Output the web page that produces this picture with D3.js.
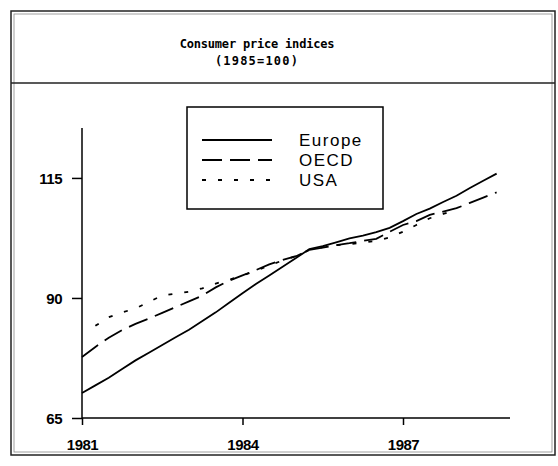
<!DOCTYPE html>
<html>
<head>
<meta charset="utf-8">
<script src="https://cdn.jsdelivr.net/npm/d3@7"></script>
<style>
  body { margin: 0; background: #fff; }
  svg { display: block; }
</style>
</head>
<body>
<div id="chart"></div>
<script>
// quarterly points, 1985 = 100
var years = [1981, 1981.25, 1981.5, 1981.75, 1982, 1982.25, 1982.5, 1982.75,
             1983, 1983.25, 1983.5, 1983.75, 1984, 1984.25, 1984.5, 1984.75,
             1985, 1985.25, 1985.5, 1985.75, 1986, 1986.25, 1986.5, 1986.75,
             1987, 1987.25, 1987.5, 1987.75, 1988, 1988.25, 1988.5, 1988.75];

var europe = [70.2, 71.8, 73.4, 75.2, 77.0, 78.6, 80.2, 81.8,
              83.4, 85.2, 87.0, 89.0, 91.0, 92.9, 94.7, 96.5,
              98.3, 100.2, 100.8, 101.6, 102.4, 103.0, 103.7, 104.6,
              106.0, 107.5, 108.6, 110.0, 111.3, 112.9, 114.4, 115.9];

var oecd = [77.7, 79.8, 81.7, 83.3, 84.6, 85.7, 86.9, 88.1,
            89.3, 90.5, 92.2, 93.6, 94.7, 95.8, 97.0, 97.9,
            98.7, 100.0, 100.5, 101.0, 101.4, 101.9, 102.3, 103.8,
            105.2, 106.0, 107.3, 108.0, 108.7, 109.8, 110.9, 112.0];

// USA series starts one quarter later and stops at 1988
var usaYears = years.slice(1, 29);
var usa = [84.2, 86.0, 87.0, 87.8, 89.2, 90.5, 90.9,
           91.3, 92.0, 93.0, 93.8, 94.7, 95.6, 96.8, 97.8,
           98.7, 100.0, 100.6, 101.0, 101.2, 101.5, 101.9, 102.6,
           103.8, 105.2, 106.6, 107.5, 108.4];

var yTicks = [65, 90, 115];
var xTicks = [1981, 1984, 1987];
var seriesNames = ["Europe", "OECD", "USA"];
var dashes = [null, "20,8", "4,12"];

var width = 558, height = 466;

var svg = d3.select("#chart").append("svg")
    .attr("width", width)
    .attr("height", height);

// frame (double line look of the original print)
svg.append("rect")
    .attr("x", 11).attr("y", 11).attr("width", 544).attr("height", 444)
    .attr("fill", "none").attr("stroke", "#222").attr("stroke-width", 1.5);
svg.append("rect")
    .attr("x", 14).attr("y", 14).attr("width", 538).attr("height", 438)
    .attr("fill", "none").attr("stroke", "#888").attr("stroke-width", 0.8);
svg.append("line")
    .attr("x1", 11).attr("x2", 555).attr("y1", 83).attr("y2", 83)
    .attr("stroke", "#222").attr("stroke-width", 1.5);

// title
svg.append("text")
    .attr("x", 257).attr("y", 48)
    .attr("text-anchor", "middle")
    .attr("font-family", "DejaVu Sans Mono")
    .attr("font-weight", "bold")
    .attr("font-size", 12)
    .attr("letter-spacing", -0.2)
    .text("Consumer price indices");
svg.append("text")
    .attr("x", 257).attr("y", 65)
    .attr("text-anchor", "middle")
    .attr("font-family", "DejaVu Sans Mono")
    .attr("font-weight", "bold")
    .attr("font-size", 12)
    .attr("letter-spacing", 1.2)
    .text("(1985=100)");

var x = d3.scaleLinear().domain([1981, 1989]).range([82, 510]);
var y = d3.scaleLinear().domain([65, 125.4]).range([418, 128]);

// axes
var yAxis = svg.append("g")
    .attr("transform", "translate(" + x(1981) + ",0)")
    .call(d3.axisLeft(y).tickValues(yTicks).tickSize(10).tickPadding(10));
var xAxis = svg.append("g")
    .attr("transform", "translate(0," + y(65) + ")")
    .call(d3.axisBottom(x).tickValues(xTicks).tickSize(7).tickFormat(d3.format("d")).tickPadding(14));

[yAxis, xAxis].forEach(function (g) {
    g.select(".domain").remove();
    g.selectAll("line").attr("stroke", "#000").attr("stroke-width", 1.5);
    g.selectAll("text")
        .attr("fill", "#000")
        .attr("font-family", "Liberation Sans")
        .attr("font-weight", "bold")
        .attr("font-size", 15)
        .attr("letter-spacing", -0.5);
});
yAxis.selectAll("text").attr("dy", "0.35em");

svg.append("line")
    .attr("x1", x(1981)).attr("x2", x(1981))
    .attr("y1", y(65)).attr("y2", y(125.4))
    .attr("stroke", "#000").attr("stroke-width", 1.5);
svg.append("line")
    .attr("x1", x(1981)).attr("x2", x(1989))
    .attr("y1", y(65)).attr("y2", y(65))
    .attr("stroke", "#000").attr("stroke-width", 1.5);

// series
var line = d3.line()
    .x(function (d) { return x(d[0]); })
    .y(function (d) { return y(d[1]); });

var allSeries = [
    d3.zip(years, europe),
    d3.zip(years, oecd),
    d3.zip(usaYears, usa)
];

allSeries.forEach(function (data, i) {
    svg.append("path")
        .datum(data)
        .attr("fill", "none")
        .attr("stroke", "#000")
        .attr("stroke-width", 1.8)
        .attr("stroke-dasharray", dashes[i])
        .attr("d", line);
});

// legend
var legend = svg.append("g");
legend.append("rect")
    .attr("x", 187).attr("y", 107).attr("width", 196).attr("height", 102)
    .attr("fill", "#fff").attr("stroke", "#000").attr("stroke-width", 1.5);

seriesNames.forEach(function (name, i) {
    var ly = 140 + i * 20;
    legend.append("line")
        .attr("x1", 202).attr("x2", 272)
        .attr("y1", ly).attr("y2", ly)
        .attr("stroke", "#000").attr("stroke-width", 1.8)
        .attr("stroke-dasharray", dashes[i]);
    legend.append("text")
        .attr("x", 299).attr("y", ly + 6)
        .attr("font-family", "Liberation Sans")
        .attr("font-size", 17)
        .attr("letter-spacing", 1.5)
        .text(name);
});
</script>
</body>
</html>
